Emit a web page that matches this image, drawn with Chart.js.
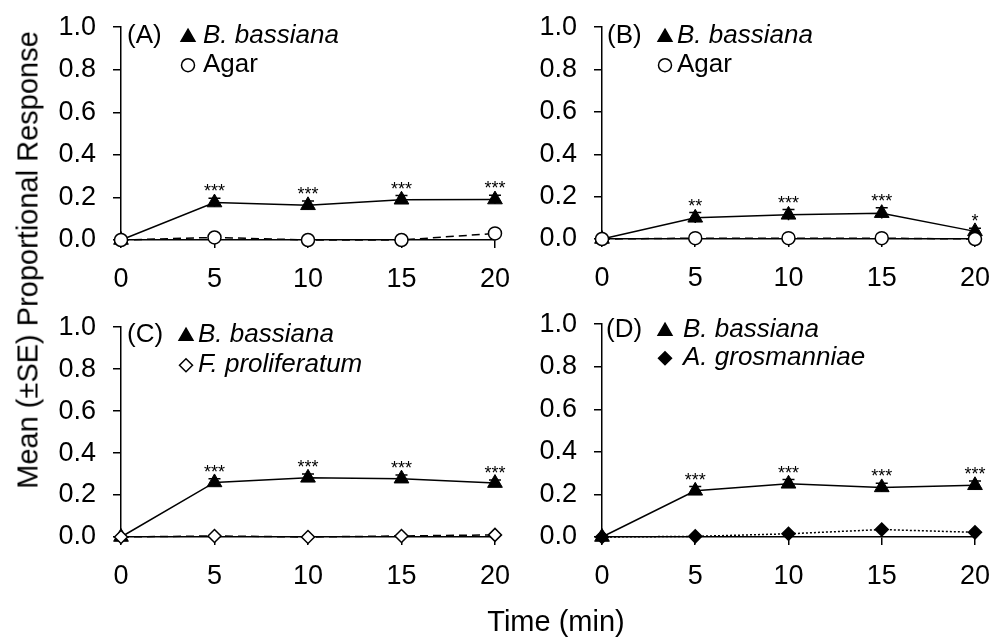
<!DOCTYPE html>
<html>
<head>
<meta charset="utf-8">
<script src="https://cdn.jsdelivr.net/npm/chart.js@4.4.1/dist/chart.umd.min.js"></script>
<style>
  body { margin: 0; background: #fff; width: 998px; height: 637px; overflow: hidden; position: relative;
         font-family: "Liberation Sans", Arial, sans-serif; color: #000; }
  canvas { position: absolute; }
  #ytitle { position: absolute; left: 28px; top: 260px; transform: translate(-50%, -50%) rotate(-90deg);
            font-size: 29px; white-space: nowrap; }
  #xtitle { position: absolute; left: 556px; top: 621px; transform: translate(-50%, -50%); font-size: 29px; white-space: nowrap; }
</style>
</head>
<body>
<canvas id="pA"></canvas>
<canvas id="pB"></canvas>
<canvas id="pC"></canvas>
<canvas id="pD"></canvas>
<div id="ytitle">Mean (±SE) Proportional Response</div>
<div id="xtitle">Time (min)</div>
<script>
const times = [0, 5, 10, 15, 20];

// panel A
const bassA = [0, 0.176, 0.163, 0.189, 0.19];
const seA = [0, 0.02, 0.02, 0.02, 0.02];
const agarA = [0, 0.012, 0, 0, 0.031];
const starsA = ['', '***', '***', '***', '***'];

// panel B
const bassB = [0, 0.10, 0.114, 0.122, 0.036];
const seB = [0, 0.025, 0.025, 0.025, 0.015];
const agarB = [0, 0.004, 0.004, 0.004, 0];
const starsB = ['', '**', '***', '***', '*'];

// panel C
const bassC = [0, 0.26, 0.282, 0.278, 0.257];
const seC = [0, 0.018, 0.018, 0.018, 0.015];
const fusC = [0, 0.005, 0, 0.005, 0.01];
const starsC = ['', '***', '***', '***', '***'];

// panel D
const bassD = [0, 0.217, 0.25, 0.233, 0.243];
const seD = [0, 0.02, 0.02, 0.02, 0.02];
const groD = [0, 0.003, 0.015, 0.035, 0.022];
const starsD = ['', '***', '***', '***', '***'];

const FONT = '"Liberation Sans", Arial, sans-serif';

function toXY(vals) {
  return vals.map((v, i) => ({ x: times[i], y: v }));
}

// error bars behind markers, asterisks on top
const errorBars = {
  id: 'errorBars',
  beforeDatasetsDraw(chart, args, opts) {
    const { ctx, scales: { x, y } } = chart;
    ctx.save();
    ctx.strokeStyle = '#000';
    ctx.lineWidth = 1.5;
    opts.means.forEach((m, i) => {
      const se = opts.se[i];
      if (!se) return;
      const px = x.getPixelForValue(times[i]);
      const top = y.getPixelForValue(m + se);
      const bot = y.getPixelForValue(m - se);
      ctx.beginPath();
      ctx.moveTo(px, bot); ctx.lineTo(px, top);
      ctx.moveTo(px - 6, top); ctx.lineTo(px + 6, top);
      ctx.stroke();
    });
    ctx.restore();
  },
  afterDatasetsDraw(chart, args, opts) {
    const { ctx, scales: { x, y } } = chart;
    ctx.save();
    ctx.fillStyle = '#000';
    ctx.font = '18px ' + FONT;
    ctx.textAlign = 'center';
    ctx.textBaseline = 'alphabetic';
    opts.stars.forEach((s, i) => {
      if (!s) return;
      const px = x.getPixelForValue(times[i]);
      const top = y.getPixelForValue(opts.means[i] + opts.se[i]);
      ctx.fillText(s, px, top - 1);
    });
    ctx.restore();
  }
};

function drawMarker(ctx, style, filled, cx, cy, r) {
  ctx.beginPath();
  if (style === 'triangle') {
    ctx.moveTo(cx, cy - r);
    ctx.lineTo(cx + r * 0.866, cy + r * 0.5);
    ctx.lineTo(cx - r * 0.866, cy + r * 0.5);
    ctx.closePath();
  } else if (style === 'rectRot') {
    ctx.moveTo(cx, cy - r); ctx.lineTo(cx + r, cy); ctx.lineTo(cx, cy + r); ctx.lineTo(cx - r, cy);
    ctx.closePath();
  } else {
    ctx.arc(cx, cy, r, 0, Math.PI * 2);
  }
  ctx.fillStyle = filled ? '#000' : '#fff';
  ctx.fill();
  ctx.lineWidth = 1.5;
  ctx.strokeStyle = '#000';
  ctx.stroke();
}

const panelLegend = {
  id: 'panelLegend',
  afterDraw(chart, args, opts) {
    const { ctx, chartArea } = chart;
    ctx.save();
    ctx.fillStyle = '#000';
    ctx.textBaseline = 'middle';
    ctx.textAlign = 'left';
    ctx.font = '26px ' + FONT;
    ctx.fillText(opts.tag, chartArea.left + opts.tagX, chartArea.top + opts.rowY[0]);
    chart.data.datasets.forEach((ds, i) => {
      const cy = chartArea.top + opts.rowY[i];
      const r = ds.pointStyle === 'triangle' ? 8 : 6.5;
      drawMarker(ctx, ds.pointStyle, ds.pointBackgroundColor === '#000', chartArea.left + opts.markX, cy + (ds.pointStyle === 'triangle' ? 1 : 0), r);
      ctx.fillStyle = '#000';
      ctx.font = (opts.italic[i] ? 'italic ' : '') + '26px ' + FONT;
      ctx.fillText(ds.label, chartArea.left + opts.textX, cy);
    });
    ctx.restore();
  }
};

function makePanel(id, area, bass, se, ctrl, ctrlLabel, ctrlStyle, ctrlFilled, ctrlDash, stars, legend) {
  const padL = 80, padT = 30, padR = 25, padB = 70;
  const yW = 72, xH = 62;
  const cv = document.getElementById(id);
  const w = area.right - area.left + padL + padR;
  const h = area.bottom - area.top + padT + padB;
  cv.width = w; cv.height = h;
  cv.style.left = (area.left - padL) + 'px';
  cv.style.top = (area.top - padT) + 'px';
  cv.style.width = w + 'px'; cv.style.height = h + 'px';

  new Chart(cv, {
    type: 'line',
    data: {
      datasets: [
        {
          label: 'B. bassiana', data: toXY(bass), order: 1,
          borderColor: '#000', borderWidth: 1.5, pointStyle: 'triangle', pointRadius: 8.5,
          pointBackgroundColor: '#000', pointBorderColor: '#000', pointBorderWidth: 1, clip: false
        },
        {
          label: ctrlLabel, data: toXY(ctrl), order: 0,
          borderColor: '#000', borderWidth: 1.5, borderDash: ctrlDash, pointStyle: ctrlStyle,
          pointRadius: 6.5,
          pointBackgroundColor: ctrlFilled ? '#000' : '#fff', pointBorderColor: '#000', pointBorderWidth: 1.5, clip: false
        }
      ]
    },
    options: {
      responsive: false,
      animation: false,
      layout: { padding: { left: padL - yW, top: padT, right: padR, bottom: padB - xH } },
      scales: {
        x: {
          type: 'linear', min: 0, max: 20,
          afterBuildTicks: s => { s.ticks = times.map(v => ({ value: v })); },
          afterFit: s => { s.height = xH; },
          border: { display: true, color: '#000', width: 1.5 },
          grid: { drawOnChartArea: false, drawTicks: true, tickLength: 8, color: '#000', lineWidth: 1.5 },
          ticks: { color: '#000', font: { family: FONT, size: 27 }, padding: 15, maxRotation: 0 }
        },
        y: {
          min: 0, max: 1,
          afterFit: s => { s.width = yW; },
          border: { display: true, color: '#000', width: 1.5 },
          grid: { drawOnChartArea: false, drawTicks: true, tickLength: 8, color: '#000', lineWidth: 1.5 },
          ticks: { stepSize: 0.2, color: '#000', font: { family: FONT, size: 27 }, padding: 17,
                   callback: v => v.toFixed(1) }
        }
      },
      plugins: {
        legend: { display: false },
        tooltip: { enabled: false },
        errorBars: { means: bass, se: se, stars: stars },
        panelLegend: legend
      }
    },
    plugins: [errorBars, panelLegend]
  });
}

makePanel('pA', { left: 121, right: 500, top: 24, bottom: 240 }, bassA, seA, agarA, 'Agar', 'circle', false, [8, 5], starsA,
  { tag: '(A)', tagX: 6, markX: 67, textX: 82, rowY: [9, 38], italic: [true, false] });
makePanel('pB', { left: 602, right: 980, top: 24, bottom: 239 }, bassB, seB, agarB, 'Agar', 'circle', false, [8, 5], starsB,
  { tag: '(B)', tagX: 5, markX: 63, textX: 75, rowY: [9, 38], italic: [true, false] });
makePanel('pC', { left: 121, right: 500, top: 324, bottom: 537 }, bassC, seC, fusC, 'F. proliferatum', 'rectRot', false, [8, 5], starsC,
  { tag: '(C)', tagX: 6, markX: 65, textX: 77, rowY: [8, 38], italic: [true, true] });
makePanel('pD', { left: 602, right: 980, top: 321, bottom: 537 }, bassD, seD, groD, 'A. grosmanniae', 'rectRot', true, [2, 2], starsD,
  { tag: '(D)', tagX: 4, markX: 63, textX: 81, rowY: [6, 34], italic: [true, true] });
</script>
</body>
</html>
